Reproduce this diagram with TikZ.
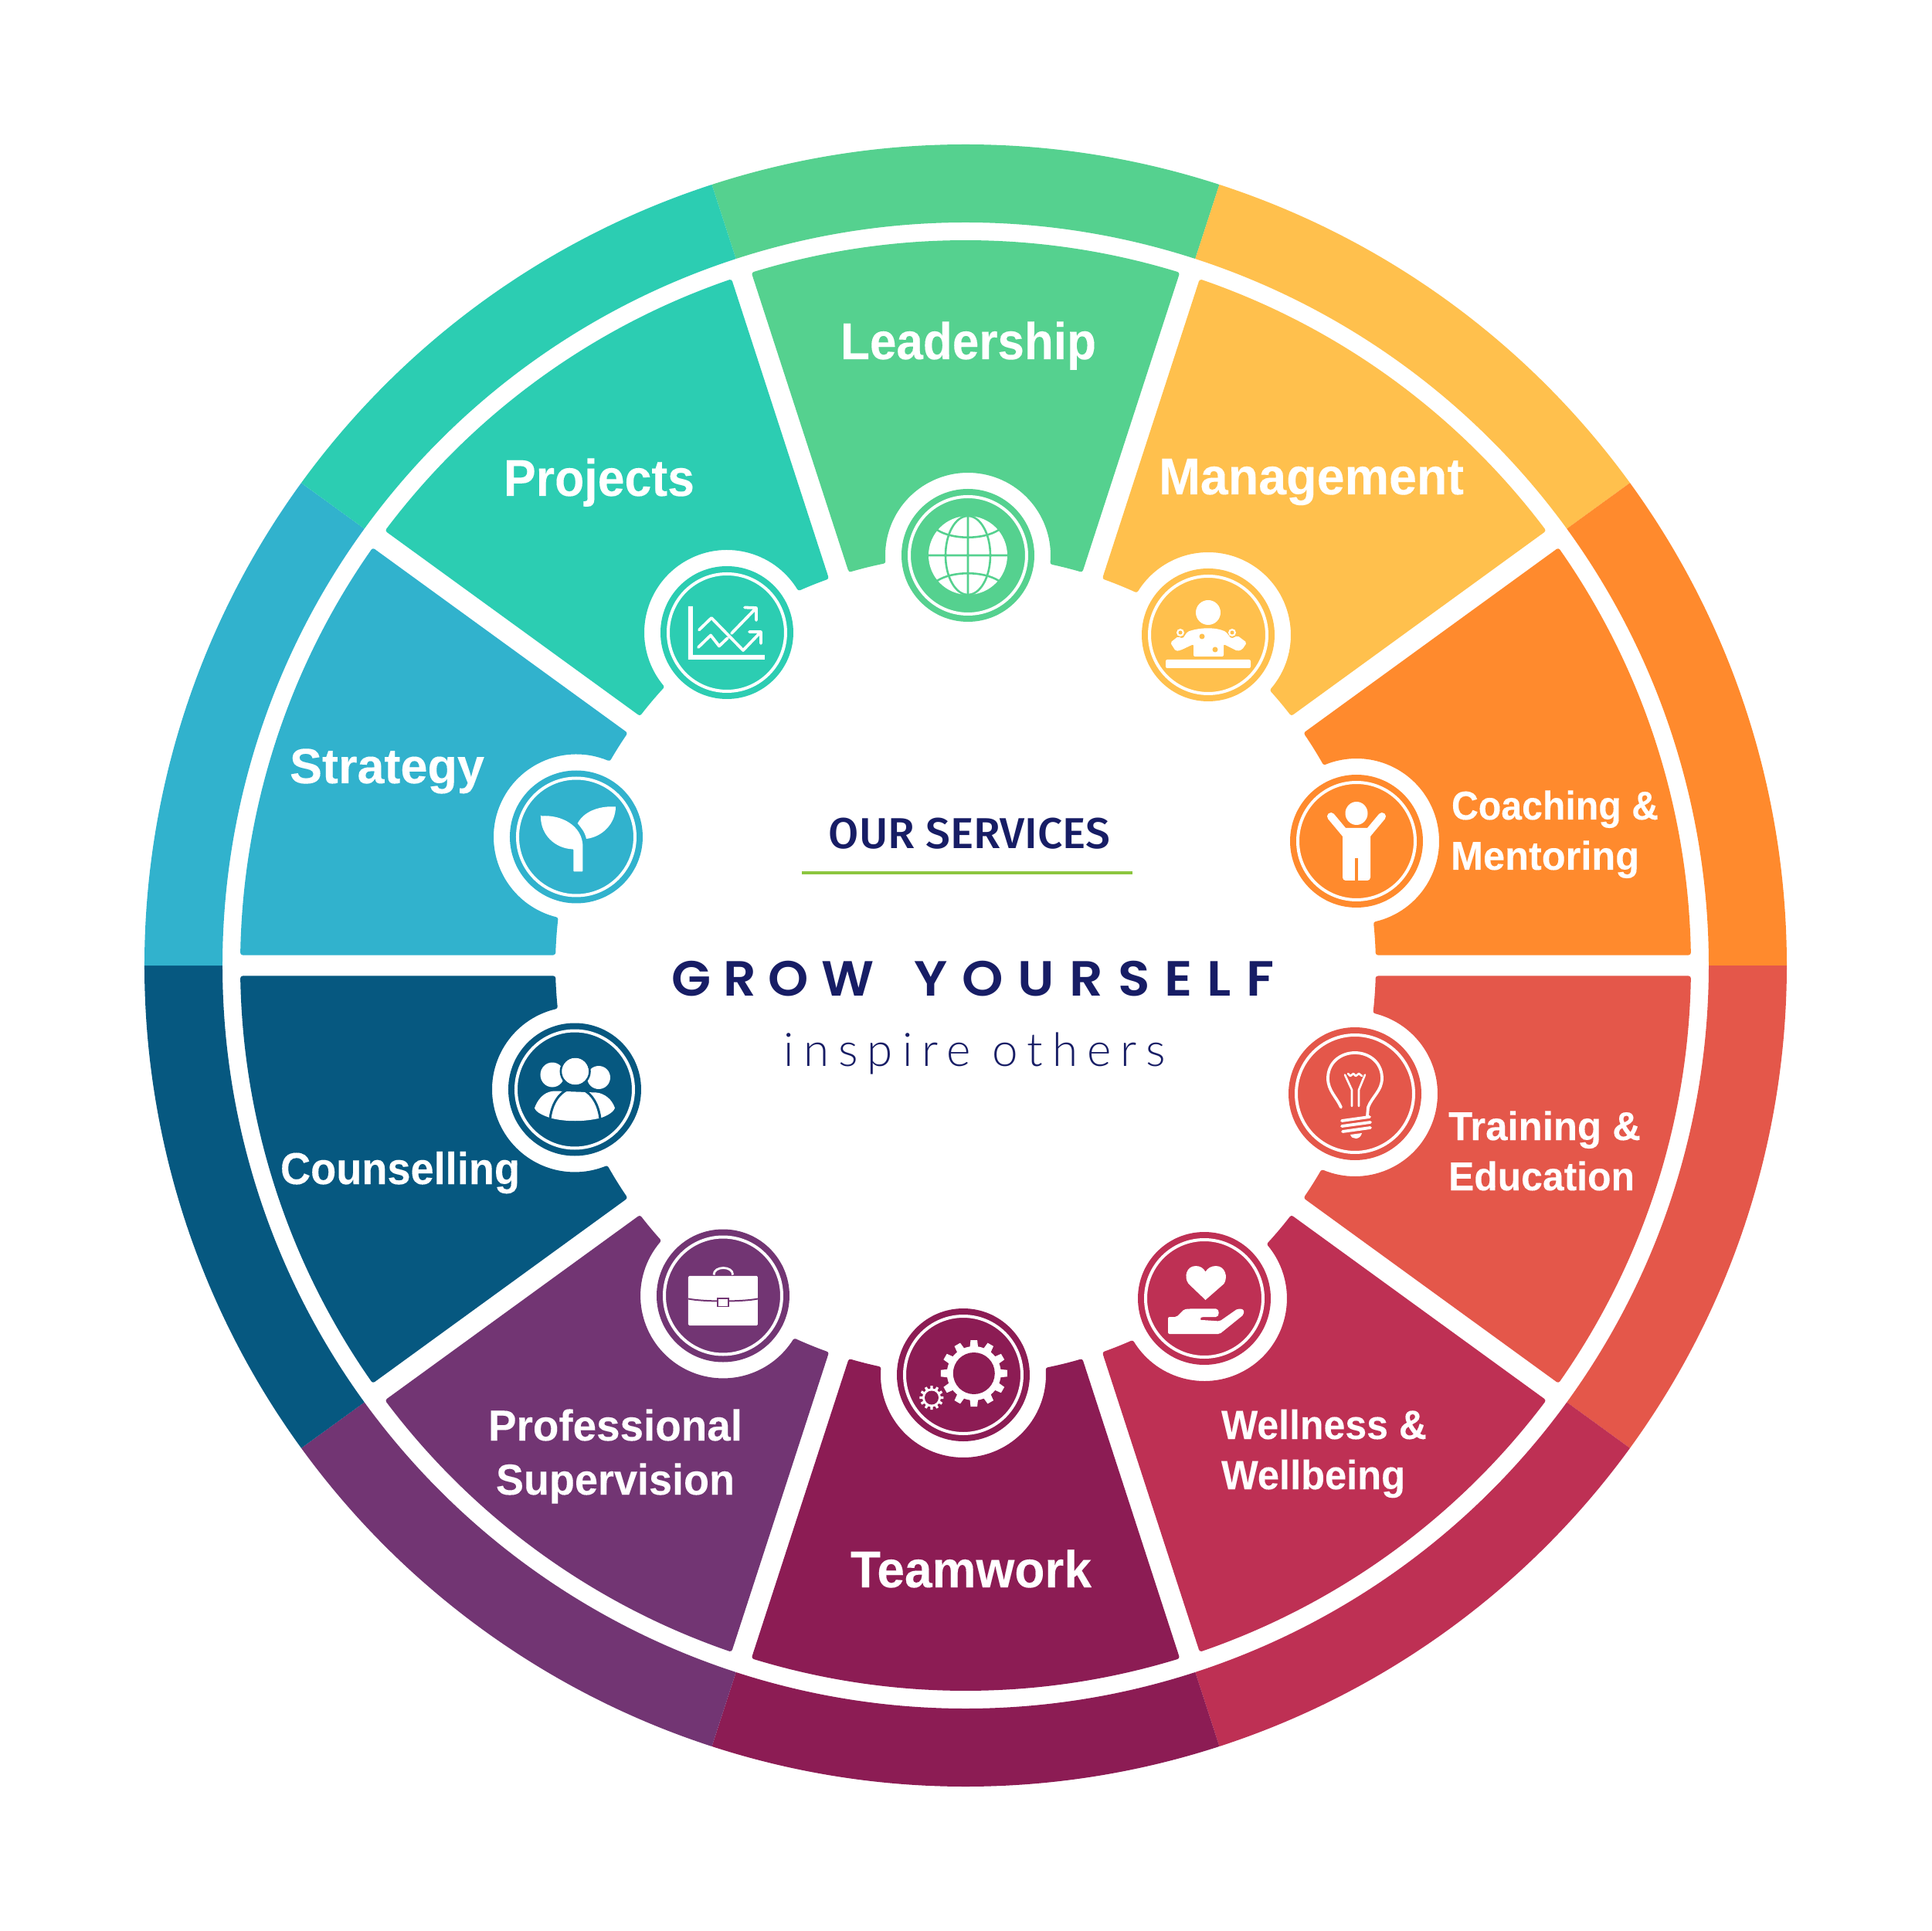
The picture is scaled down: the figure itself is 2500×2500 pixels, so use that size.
\documentclass[tikz,border=0pt]{standalone}
\usepackage{graphicx}
\usepackage{fontspec}
\setmainfont{Liberation Sans}[BoldFeatures={FakeBold=0.12}]
\newfontfamily\medfont{Fira Sans Medium}
\newfontfamily\growfont{Poppins SemiBold}
\newfontfamily\litefont{Lato Light}
\definecolor{cLead}{HTML}{55D18F}
\definecolor{cMgmt}{HTML}{FFC04D}
\definecolor{cCoach}{HTML}{FF8A2D}
\definecolor{cTrain}{HTML}{E4574A}
\definecolor{cWell}{HTML}{BE3054}
\definecolor{cTeam}{HTML}{8C1C54}
\definecolor{cProf}{HTML}{723573}
\definecolor{cCouns}{HTML}{065880}
\definecolor{cStrat}{HTML}{31B2CD}
\definecolor{cProj}{HTML}{2CCDB2}
\definecolor{navy}{HTML}{171D65}
\definecolor{lime}{HTML}{8CC63F}
\tikzset{
  wedgeshape/.style={line width=6pt,line join=round},
  iconbase/.style={circle,minimum size=172pt,inner sep=0pt},
  iconring/.style={draw=white,line width=4pt},
  lab/.style={anchor=base,inner sep=0pt,text=white},
  ink/.style={draw=white,line width=3.8pt,line cap=round,line join=round},
  thin ink/.style={draw=white,line width=2.6pt,line cap=round,line join=round}
}
\newcommand{\bandseg}[2]{%
  \pgfmathsetmacro\aL{#1-18}\pgfmathsetmacro\aH{#1+18}%
  \fill[#2] (\aL:1063) arc[start angle=\aL,end angle=\aH,radius=1063] -- (\aH:962)
     arc[start angle=\aH,end angle=\aL,radius=962] -- cycle;}
\newcommand{\wedgeseg}[4]{% centre angle, halo x, halo y, colour
  \pgfmathsetmacro\aIn{18-asin(16.5/534)}%
  \pgfmathsetmacro\aOut{18-asin(16.5/936)}%
  \pgfmathsetmacro\rho{veclen(#2,#3)}%
  \pgfmathsetmacro\phiH{atan2(#3,#2)}%
  \pgfmathsetmacro\cosD{((\rho/100)^2+5.34^2-1.10^2)/(2*(\rho/100)*5.34)}%
  \pgfmathsetmacro\dlt{acos(\cosD)}%
  \pgfmathsetmacro\gam{atan2(534*sin(\dlt),534*cos(\dlt)-\rho)}%
  \pgfmathsetmacro\pa{#1+\aIn}\pgfmathsetmacro\pb{#1+\aOut}%
  \pgfmathsetmacro\pc{#1-\aOut}\pgfmathsetmacro\pd{#1-\aIn}%
  \pgfmathsetmacro\pe{\phiH-\dlt}\pgfmathsetmacro\pf{\phiH+\dlt}%
  \pgfmathsetmacro\pg{\phiH-\gam}\pgfmathsetmacro\ph{\phiH+\gam}%
  \path[wedgeshape,fill=#4,draw=#4] (\pa:534) -- (\pb:936)
    arc[start angle=\pb,end angle=\pc,radius=936] -- (\pd:534)
    arc[start angle=\pd,end angle=\pe,radius=534]
    arc[start angle=\pg,end angle=\ph,radius=110]
    arc[start angle=\pf,end angle=\pa,radius=534] -- cycle;}
\newcommand{\lbl}[6]{% id, x1, x2, baseline, size, text
  \pgfmathsetmacro\lw{#3-#2}\pgfmathsetmacro\lx{(#2+#3)/2-1250}\pgfmathsetmacro\ly{1250-#4}%
  \node[lab] (#1) at (\lx,\ly) {\resizebox{\lw pt}{\height}{\fontsize{#5}{#5}\selectfont\bfseries #6}};}
\newcommand{\gearshape}[6]{% cx, cy, body r, tip r, hole r, teeth
  \begin{scope}[shift={(#1,#2)}]
    \fill[white] (0,0) circle[radius=#3];
    \pgfmathsetmacro\tw{#4*0.10}\pgfmathsetmacro\tb{#3*0.15}
    \pgfmathsetmacro\st{360/#6}
    \foreach \k in {1,...,#6}{
      \fill[white,rotate={\k*\st}] (#3-1,-\tb) -- (#4,-\tw) -- (#4,\tw) -- (#3-1,\tb) -- cycle;
    }
    \fill[ic] (0,0) circle[radius=#5];
  \end{scope}}
\begin{document}
\begin{tikzpicture}[x=1pt,y=1pt]
\useasboundingbox (-1250,-1250) rectangle (1250,1250);
% outer band
\bandseg{90}{cLead}\bandseg{54}{cMgmt}\bandseg{18}{cCoach}\bandseg{-18}{cTrain}\bandseg{-54}{cWell}
\bandseg{-90}{cTeam}\bandseg{-126}{cProf}\bandseg{-162}{cCouns}\bandseg{162}{cStrat}\bandseg{126}{cProj}
% wedges
\wedgeseg{90}{3}{531}{cLead}
\wedgeseg{54}{314}{428}{cMgmt}
\wedgeseg{18}{506}{161}{cCoach}
\wedgeseg{-18}{504}{-166}{cTrain}
\wedgeseg{-54}{309}{-431}{cWell}
\wedgeseg{-90}{-3}{-530}{cTeam}
\wedgeseg{-126}{-314}{-427.5}{cProf}
\wedgeseg{-162}{-506}{-160.5}{cCouns}
\wedgeseg{162}{-504}{166.5}{cStrat}
\wedgeseg{126}{-309}{431}{cProj}
% --- Leadership: globe
\colorlet{ic}{cLead}
\node[iconbase,fill=ic] (iconLead) at (3,531) {};
\begin{scope}[shift={(3,531)}]
  \draw[iconring] (0,0) circle[radius=76];
  \fill[white] (0,0) circle[radius=51];
  \draw[ic,line width=2.6pt] (0,-51) -- (0,51) (-51,0) -- (51,0) (0,0) ellipse[x radius=29,y radius=51];
  \draw[ic,line width=2.6pt] (-40,33) .. controls (-20,20) and (20,20) .. (40,33);
  \draw[ic,line width=2.6pt] (-40,-33) .. controls (-20,-20) and (20,-20) .. (40,-33);
\end{scope}
% --- Management: presenter
\colorlet{ic}{cMgmt}
\node[iconbase,fill=ic] (iconMgmt) at (314,428) {};
\begin{scope}[shift={(314,428)}]
  \draw[iconring] (0,0) circle[radius=76];
  \fill[white] (0,29) ellipse[x radius=16,y radius=16];
  \fill[white,rounded corners=2pt] (-19,-28) -- (20,-28) -- (20,-12) -- (38,-21) -- (44,-19) -- (50,-10) -- (38,-1) -- (30,-5) -- (23,4)
     .. controls (10,10) and (-10,10) .. (-27,4) -- (-33,-5) -- (-39,-2) -- (-49,-10) -- (-42,-21) -- (-36,-20) -- (-19,-12) -- cycle;
  \fill[ic] (-8,-2) circle[radius=3.5] (9,-19) circle[radius=3.5];
  \fill[white] (-36,3) circle[radius=5] (31,3) circle[radius=5];
  \fill[ic] (-36,3) circle[radius=2.5] (31,3) circle[radius=2.5];
  \fill[white,rounded corners=2pt] (-55,-43) rectangle (55,-32);
\end{scope}
% --- Coaching: person with raised arms
\colorlet{ic}{cCoach}
\node[iconbase,fill=ic] (iconCoach) at (506,161) {};
\begin{scope}[shift={(506,161)}]
  \draw[iconring] (0,0) circle[radius=76];
  \fill[white] (0,36) ellipse[x radius=14.5,y radius=15];
  \draw[white,line width=10pt,line cap=round] (-13,8) -- (-33,32) (13,8) -- (33,32);
  \fill[white,rounded corners=4pt] (-18,-51) -- (-18,17) -- (18,17) -- (18,-51) -- cycle;
  \fill[ic] (-2.3,-55) rectangle (2.3,-22);
\end{scope}
% --- Training: light bulb
\colorlet{ic}{cTrain}
\node[iconbase,fill=ic] (iconTrain) at (504,-166) {};
\begin{scope}[shift={(504,-166)}]
  \draw[iconring] (0,0) circle[radius=76];
  \draw[ink] (-18,-17.6) .. controls (-24,-4) and (-35,4) .. (-35,20) .. controls (-35,40) and (-19,53) .. (0,53)
     .. controls (19,53) and (35,40) .. (35,20) .. controls (35,4) and (22,-4) .. (17,-17.6) -- (16,-29);
  \draw[thin ink] (-4,-16) -- (-4,5) -- (-13,24.5) (5,-16) -- (5,5) -- (13,24.5);
  \draw[thin ink] (-9,26) -- (-6,23) -- (-2,26) -- (1,23) -- (5,26) -- (9,23);
  \draw[ink] (-17,-35) -- (19,-30) (-17,-42) -- (20,-37) (-16,-49) -- (20,-44);
  \fill[white] (-6,-53) -- (9,-51) .. controls (7,-60) and (-4,-60) .. cycle;
\end{scope}
% --- Wellness: heart in hand
\colorlet{ic}{cWell}
\node[iconbase,fill=ic] (iconWell) at (309,-431) {};
\begin{scope}[shift={(309,-431)}]
  \draw[iconring] (0,0) circle[radius=76];
  \fill[white] (1.5,-2) -- (-20.5,19) .. controls (-27,28) and (-23,42) .. (-11,42) .. controls (-5,42) and (-1,39) .. (1.5,34.5)
     .. controls (4,39) and (9,42) .. (15,42) .. controls (27,42) and (31,28) .. (25.5,19) -- cycle;
  \fill[white,rounded corners=2pt] (-47,-24) -- (-36,-24) -- (-26,-14) -- (-18,-13.4) -- (13,-13.4) .. controls (20,-13.4) and (20,-24) .. (13,-24)
     -- (-2.5,-24) .. controls (-5,-25) and (-5,-28) .. (-2.5,-28) -- (20,-29.5) -- (43,-13.4) -- (51,-14) -- (51,-21) -- (20,-46) -- (-47,-46) -- cycle;
\end{scope}
% --- Teamwork: gears
\colorlet{ic}{cTeam}
\node[iconbase,fill=ic] (iconTeam) at (-3,-530) {};
\begin{scope}[shift={(-3,-530)}]
  \draw[iconring] (0,0) circle[radius=76];
  \gearshape{13.8}{2}{35}{43}{27}{12}
  \gearshape{-41}{-29.5}{12}{15.5}{9}{12}
\end{scope}
% --- Professional supervision: briefcase
\colorlet{ic}{cProf}
\node[iconbase,fill=ic] (iconProf) at (-314,-427.5) {};
\begin{scope}[shift={(-314,-427.5)}]
  \draw[iconring] (0,0) circle[radius=76];
  \fill[white,rounded corners=1.5pt] (-45,-38.6) rectangle (45,25.6);
  \draw[ic,line width=2pt] (-45,-4) .. controls (-25,-8) and (25,-8) .. (45,-4);
  \draw[ic,line width=1.4pt,fill=white] (-7,-13.7) rectangle (7,-3.5);
  \draw[white,line width=2.8pt] (-12,27) .. controls (-12,39) and (12.7,39) .. (12.7,27);
\end{scope}
% --- Counselling: group
\colorlet{ic}{cCouns}
\node[iconbase,fill=ic] (iconCouns) at (-506,-160.5) {};
\begin{scope}[shift={(-506,-160.5)}]
  \draw[iconring] (0,0) circle[radius=76];
  \fill[white] (-29,19) ellipse[x radius=15.5,y radius=16];
  \fill[white] (31,15.5) circle[radius=15];
  \fill[white] (-52,-24) .. controls (-46,-8) and (-36,-2) .. (-25,-2) -- (28,-4) .. controls (38,-5) and (48,-12) .. (52,-24)
     .. controls (50,-30) and (40,-35) .. (33,-37) .. controls (12,-42) and (-12,-42) .. (-31,-37) .. controls (-40,-34) and (-50,-30) .. cycle;
  \draw[ic,line width=3pt] (-32,-38) .. controls (-29,-12) and (-14,2) .. (0.7,2) .. controls (15,2) and (30,-12) .. (33,-38);
  \fill[white] (0.7,23.5) circle[radius=17.5];
  \draw[ic,line width=2.6pt] (0.7,23.5) circle[radius=18.8];
\end{scope}
% --- Strategy: sprout
\colorlet{ic}{cStrat}
\node[iconbase,fill=ic] (iconStrat) at (-504,166.5) {};
\begin{scope}[shift={(-504,166.5)}]
  \draw[iconring] (0,0) circle[radius=76];
  \fill[white,rounded corners=1pt] (-46,27) .. controls (-20,29) and (8.5,15) .. (8.5,-14) -- (8.5,-45) -- (-3.5,-45) -- (-3.5,-16) .. controls (-28,-15) and (-46,3) .. cycle;
  \fill[white] (1.7,17.5) .. controls (10.7,35) and (34,40.5) .. (51,39) .. controls (51,17.5) and (34,0) .. (13,-2.5) .. controls (11,7) and (6,12) .. cycle;
\end{scope}
% --- Projects: chart
\colorlet{ic}{cProj}
\node[iconbase,fill=ic] (iconProj) at (-309,431) {};
\begin{scope}[shift={(-309,431)}]
  \draw[iconring] (0,0) circle[radius=76];
  \fill[white] (-50,34) -- (-44,34) -- (-44,-29) -- (49,-29) -- (49,-35) -- (-50,-35) -- cycle;
  \draw[ink] (-36,3.5) -- (-20,19) -- (21,-23) -- (44,1) (29,1) -- (44,1) -- (44,-14);
  \draw[ink] (-37,-19) -- (-21,-3.5) -- (-10,-17.5) -- (1,-7);
  \draw[ink] (6,-1) -- (38,32) (23,32.5) -- (38,32) -- (38,16);
\end{scope}
% labels
\lbl{tLead}{1088}{1419}{465}{67}{Leadership}
\lbl{tProj}{652}{899}{642}{67}{Projects}
\lbl{tMgmt}{1500}{1895}{640}{67}{Management}
\lbl{tCoachA}{1879}{2147}{1061}{52}{Coaching \&}
\lbl{tCoachB}{1878}{2122}{1126}{52}{Mentoring}
\lbl{tStrat}{375}{627}{1014}{64}{Strategy}
\lbl{tCouns}{363}{673}{1533}{58}{Counselling}
\lbl{tTrainA}{1875}{2124}{1476}{52}{Training \&}
\lbl{tTrainB}{1875}{2116}{1541}{52}{Education}
\lbl{tWellA}{1581}{1847}{1863}{53}{Wellness \&}
\lbl{tWellB}{1581}{1819}{1928}{53}{Wellbeing}
\lbl{tProfA}{632}{961}{1865}{56}{Professional}
\lbl{tProfB}{642}{951}{1935}{56}{Supervision}
\lbl{tTeam}{1101}{1413}{2055}{67}{Teamwork}
% centre text
\node[anchor=base,inner sep=0pt,text=navy] (ourServices) at (5,151) {\resizebox{364pt}{\height}{\fontsize{56}{56}\selectfont\medfont OUR SERVICES}};
\draw[lime,line width=4.5pt] (-212,120) coordinate (ruleL) -- (216,120) coordinate (ruleR);
\node[anchor=base west,inner sep=0pt,text=navy] (growA) at (-381,-39) {\resizebox{262pt}{\height}{\fontsize{64}{64}\selectfont\growfont\addfontfeature{LetterSpace=24}GROW}};
\node[anchor=base west,inner sep=0pt,text=navy] (growB) at (-67,-39) {\resizebox{466pt}{\height}{\fontsize{64}{64}\selectfont\growfont\addfontfeature{LetterSpace=28}YOURSELF}};
\node[anchor=base,inner sep=0pt,text=navy] (inspire) at (12,-130) {\resizebox{494pt}{\height}{\fontsize{60}{60}\selectfont\litefont\addfontfeature{LetterSpace=20}inspire others}};
\end{tikzpicture}
\end{document}
